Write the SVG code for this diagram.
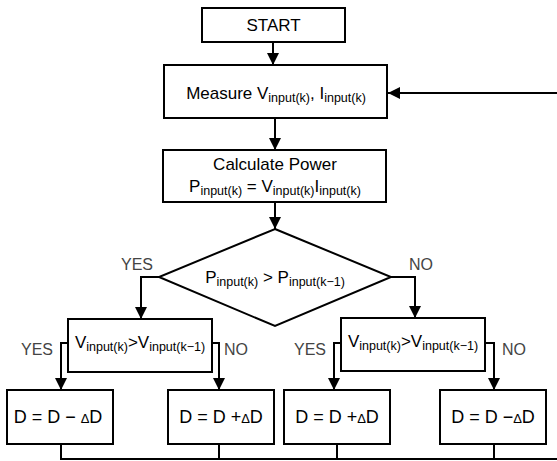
<svg xmlns="http://www.w3.org/2000/svg" width="557" height="461" viewBox="0 0 557 461">
<defs>
<marker id="ah" markerWidth="12" markerHeight="14" refX="12" refY="7" orient="auto" markerUnits="userSpaceOnUse">
<path d="M0,1 L12,7 L0,13 Z" fill="#000"/>
</marker>
<style>
.box{fill:#fff;stroke:#000;stroke-width:2}
.ln{fill:none;stroke:#000;stroke-width:2}
.t{font-family:"Liberation Sans",Arial,sans-serif;font-size:17px;fill:#000;text-anchor:middle}
.s{font-size:12.5px}
.lab{font-family:"Liberation Sans",Arial,sans-serif;font-size:16px;fill:#444}
.d{font-family:"Liberation Sans",Arial,sans-serif;font-size:18px;fill:#000;text-anchor:middle}
</style>
</defs>
<g id="connectors">
<path class="ln" d="M273,42 V65" marker-end="url(#ah)"/>
<path class="ln" d="M275,118 V150" marker-end="url(#ah)"/>
<path class="ln" d="M275,202 V229" marker-end="url(#ah)"/>
<path class="ln" d="M159,277 H141 V319" marker-end="url(#ah)"/>
<path class="ln" d="M391,277 H415 V318" marker-end="url(#ah)"/>
<path class="ln" d="M68,343 H61 V390" marker-end="url(#ah)"/>
<path class="ln" d="M212,343 H219 V390" marker-end="url(#ah)"/>
<path class="ln" d="M341,343 H334 V390" marker-end="url(#ah)"/>
<path class="ln" d="M485,343 H494 V390" marker-end="url(#ah)"/>
<path class="ln" d="M61,444 V459 H557"/>
<path class="ln" d="M219,444 V459"/>
<path class="ln" d="M337,444 V459"/>
<path class="ln" d="M494,444 V459"/>
<path class="ln" d="M557,93 H388" marker-end="url(#ah)"/>
</g>
<g id="start">
<rect class="box" x="202" y="8" width="143" height="34"/>
<text class="t" x="273.5" y="31">START</text>
</g>
<g id="measure">
<rect class="box" x="164" y="65" width="223" height="53"/>
<text class="t" x="276" y="99">Measure V<tspan class="s" dy="3">input(k)</tspan><tspan dy="-3">, I</tspan><tspan class="s" dy="3">input(k)</tspan></text>
</g>
<g id="calc">
<rect class="box" x="163" y="150" width="223" height="52"/>
<text class="t" x="275" y="170">Calculate Power</text>
<text class="t" x="275" y="192">P<tspan class="s" dy="3">input(k)</tspan><tspan dy="-3"> = V</tspan><tspan class="s" dy="3">input(k)</tspan><tspan dy="-3">I</tspan><tspan class="s" dy="3">input(k)</tspan></text>
</g>
<g id="decision">
<polygon class="box" points="275,229 391,277 275,326 159,277"/>
<text class="t" x="275" y="283">P<tspan class="s" dy="3">input(k)</tspan><tspan dy="-3"> &gt; P</tspan><tspan class="s" dy="3">input(k−1)</tspan></text>
<text class="lab" x="121" y="270">YES</text>
<text class="lab" x="409" y="270">NO</text>
</g>
<g id="cmpL">
<rect class="box" x="68" y="319" width="144" height="53"/>
<text class="t" x="140" y="348">V<tspan class="s" dy="3">input(k)</tspan><tspan dy="-3">&gt;V</tspan><tspan class="s" dy="3">input(k−1)</tspan></text>
<text class="lab" x="21" y="355">YES</text>
<text class="lab" x="224" y="355">NO</text>
</g>
<g id="cmpR">
<rect class="box" x="341" y="318" width="144" height="53"/>
<text class="t" x="413" y="347">V<tspan class="s" dy="3">input(k)</tspan><tspan dy="-3">&gt;V</tspan><tspan class="s" dy="3">input(k−1)</tspan></text>
<text class="lab" x="294" y="355">YES</text>
<text class="lab" x="502" y="355">NO</text>
</g>
<g id="d1">
<rect class="box" x="7" y="390" width="106" height="54"/>
<text class="d" x="58" y="423">D = D − <tspan font-size="13">Δ</tspan>D</text>
</g>
<g id="d2">
<rect class="box" x="168" y="390" width="106" height="54"/>
<text class="d" x="221" y="423">D = D +<tspan font-size="13">Δ</tspan>D</text>
</g>
<g id="d3">
<rect class="box" x="284" y="390" width="106" height="54"/>
<text class="d" x="337" y="423">D = D +<tspan font-size="13">Δ</tspan>D</text>
</g>
<g id="d4">
<rect class="box" x="440" y="390" width="106" height="54"/>
<text class="d" x="493" y="423">D = D −<tspan font-size="13">Δ</tspan>D</text>
</g>
</svg>
